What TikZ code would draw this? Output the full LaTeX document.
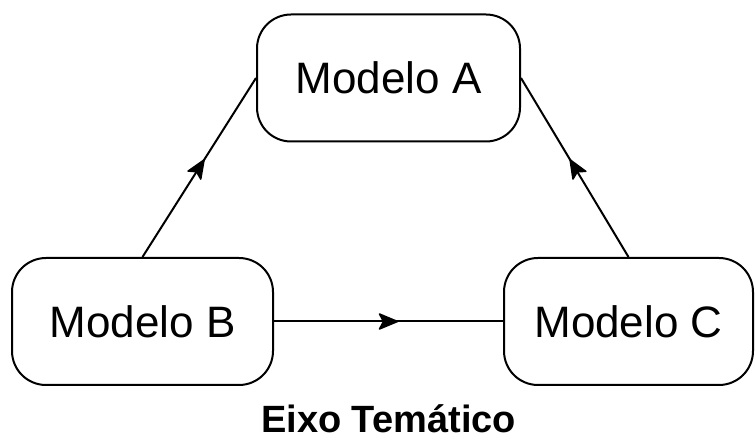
\documentclass[tikz,border=0pt]{standalone}
\usepackage{fontspec}
\setmainfont{Liberation Sans}
\usetikzlibrary{decorations.markings}

\begin{document}
\begin{tikzpicture}[x=1pt,y=1pt,
    modelbox/.style={draw,line width=2pt,rounded corners=34pt,inner sep=0pt,
                     minimum height=127pt,font=\fontsize{44}{52}\selectfont},
    midarrow/.style={line width=2pt,postaction={decorate},
       decoration={markings,mark=at position 0.5 with
          {\filldraw[line width=1.5pt,line join=round] (-9pt,-7.5pt) -- (9pt,0pt)
                 -- (-9pt,7.5pt) -- (-5pt,0pt) -- cycle;}}}]
  \useasboundingbox (0,0) rectangle (755,441);
  %% the three models
  \node[modelbox,minimum width=263pt] (modA) at (388.5,363) {Modelo A};
  \node[modelbox,minimum width=261pt] (modB) at (142.5,119.5) {Modelo B};
  \node[modelbox,minimum width=249pt] (modC) at (628.5,119.5) {Modelo C};
  %% connectors, arrow in the middle
  \draw[midarrow] (modB.north) -- (modA.west);
  \draw[midarrow] (modC.north) -- (modA.east);
  \draw[midarrow] (modB.east) -- (modC.west);
  %% caption
  \node[anchor=base,font=\fontsize{38}{44}\selectfont\bfseries,inner sep=0pt]
       (eixo) at (388.5,8) {Eixo Temático};
\end{tikzpicture}
\end{document}
